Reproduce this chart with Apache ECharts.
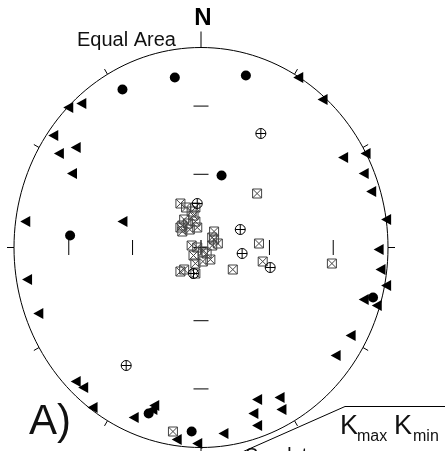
<!DOCTYPE html>
<html>
<head>
<meta charset="utf-8">
<script src="https://cdn.jsdelivr.net/npm/echarts@6/dist/echarts.min.js"></script>
<style>
html,body{margin:0;padding:0;background:#fff;}
#chart{width:445px;height:451px;}
</style>
</head>
<body>
<div id="chart"></div>
<script>
// Projected (equal-area) positions on the unit net: [east, north]
const circlePoles = [[-0.42,0.79],[-0.14,0.85],[0.24,0.86],[0.11,0.36],[-0.70,0.06],[0.92,-0.25],[-0.28,-0.83],[-0.05,-0.92]];
const trianglePoles = [[-0.71,0.70],[-0.64,0.72],[0.52,0.85],[0.65,0.74],[-0.79,0.56],[-0.67,0.50],[-0.76,0.47],[-0.69,0.37],
  [-0.94,0.13],[-0.42,0.13],[-0.93,-0.16],[0.76,0.45],[0.88,0.47],[0.87,0.37],[0.91,0.28],[0.99,0.14],[0.95,-0.01],
  [0.96,-0.11],[0.99,-0.19],[0.87,-0.26],[0.94,-0.29],[-0.87,-0.33],[0.80,-0.44],[0.72,-0.54],[-0.67,-0.67],[-0.63,-0.70],
  [-0.58,-0.80],[-0.36,-0.85],[-0.25,-0.79],[-0.26,-0.81],[-0.13,-0.96],[-0.02,-0.98],[0.12,-0.93],[0.30,-0.76],
  [0.42,-0.75],[0.28,-0.83],[0.43,-0.81],[0.30,-0.89]];
const kmaxAxes = [[0.30,0.27],[0.31,0.02],[0.33,-0.07],[0.17,-0.11],[0.70,-0.08],[-0.15,-0.92],
  [-0.11,0.22],[-0.08,0.20],[-0.05,0.18],[-0.03,0.20],[-0.04,0.16],[-0.09,0.14],[-0.07,0.12],[-0.03,0.13],
  [-0.11,0.10],[-0.10,0.08],[-0.10,0.11],[-0.06,0.09],[-0.02,0.10],[0.07,0.08],[0.06,0.05],[0.07,0.04],
  [0.06,0.01],[0.09,0.02],[-0.05,0.01],[-0.02,0.00],[-0.04,-0.04],[0.01,-0.02],[0.03,-0.03],[0.05,-0.06],
  [0.01,-0.07],[-0.03,-0.08],[-0.03,-0.13],[-0.11,-0.12],[-0.09,-0.11]];
const kminAxes = [[0.32,0.57],[-0.02,0.22],[0.21,0.09],[0.22,-0.03],[0.37,-0.10],[-0.04,-0.13],[-0.40,-0.59]];
// Net definition
const tickAzimuths = [0,30,60,90,120,150,180,210,240,270,300,330];
const netPlunges = [30,60];

const FONT = '"Liberation Sans", Arial, sans-serif';
const chart = echarts.init(document.getElementById('chart'));

function eqArea(p){ return Math.SQRT2*Math.sin((90-p)/2*Math.PI/180); }

function renderNet(params, api){
  const c = api.coord([0,0]);
  const ex = api.coord([1,0]);
  const ny = api.coord([0,1]);
  const rx = ex[0]-c[0], ry = c[1]-ny[1];
  const children = [];
  const pts = [];
  for (let a=0;a<=360;a+=2){
    const t=a*Math.PI/180;
    pts.push([c[0]+rx*Math.sin(t), c[1]-ry*Math.cos(t)]);
  }
  children.push({type:'polyline', shape:{points:pts}, style:{stroke:'#000', lineWidth:1, fill:null}});
  tickAzimuths.forEach(az=>{
    const t=az*Math.PI/180, s=Math.sin(t), co=Math.cos(t);
    const len = az===0?16:(az%90===0?7:6);
    const x0=c[0]+rx*s, y0=c[1]-ry*co;
    children.push({type:'line', shape:{x1:x0,y1:y0,x2:x0+len*s,y2:y0-len*co}, style:{stroke:'#000',lineWidth:1}});
  });
  const half=7.5;
  netPlunges.forEach(p=>{
    const r=eqArea(p);
    [-1,1].forEach(sg=>{
      const yy=c[1]-sg*r*ry;
      children.push({type:'line', shape:{x1:c[0]-half,y1:yy,x2:c[0]+half,y2:yy}, style:{stroke:'#000',lineWidth:1}});
      const xx=c[0]+sg*r*rx;
      children.push({type:'line', shape:{x1:xx,y1:c[1]-half,x2:xx,y2:c[1]+half}, style:{stroke:'#000',lineWidth:1}});
    });
  });
  children.push({type:'line', shape:{x1:c[0]-half,y1:c[1],x2:c[0]+half,y2:c[1]}, style:{stroke:'#000',lineWidth:1.2}});
  children.push({type:'line', shape:{x1:c[0],y1:c[1]-half,x2:c[0],y2:c[1]+half}, style:{stroke:'#000',lineWidth:1.2}});
  return {type:'group', children};
}

const option = {
  backgroundColor:'#fff',
  animation:false,
  grid:{left:14, top:47.5, width:374, height:400},
  xAxis:{type:'value', min:-1, max:1, show:false},
  yAxis:{type:'value', min:-1, max:1, show:false},
  series:[
    {type:'custom', coordinateSystem:'cartesian2d', data:[[0,0]], renderItem:renderNet, silent:true, z:1},
    {type:'scatter', data:trianglePoles, clip:false, symbol:'triangle', symbolSize:[11,10], symbolRotate:90,
      itemStyle:{color:'#000', opacity:1}, z:3},
    {type:'scatter', data:circlePoles, clip:false, symbol:'circle', symbolSize:10,
      itemStyle:{color:'#000', opacity:1}, z:3},
    {type:'scatter', data:kmaxAxes, clip:false, symbol:'path://M0,0L10,0L10,10L0,10ZM0,0L10,10M10,0L0,10', symbolSize:9,
      itemStyle:{color:'rgba(0,0,0,0)', borderColor:'#444', borderWidth:1, opacity:1}, z:4},
    {type:'scatter', data:kminAxes, clip:false, symbol:'path://M10,5A5,5 0 1 1 0,5A5,5 0 1 1 10,5ZM5,0L5,10M0,5L10,5', symbolSize:10,
      itemStyle:{color:'rgba(255,255,255,0)', borderColor:'#000', borderWidth:1, opacity:1}, z:5}
  ],
  graphic:[
    {type:'text', style:{text:'N', x:203, y:18, font:'bold 24px '+FONT, textAlign:'center', textVerticalAlign:'middle', fill:'#000'}},
    {type:'text', style:{text:'Equal Area', x:77, y:40, font:'20px '+FONT, textAlign:'left', textVerticalAlign:'middle', fill:'#111'}},
    {type:'text', style:{text:'A)', x:29, y:422, font:'42px '+FONT, textAlign:'left', textVerticalAlign:'middle', fill:'#111'}},
    {type:'text', style:{text:'K', x:340, y:426.5, font:'27px '+FONT, textAlign:'left', textVerticalAlign:'middle', fill:'#111'}},
    {type:'text', style:{text:'max', x:357, y:437, font:'16px '+FONT, textAlign:'left', textVerticalAlign:'middle', fill:'#111'}},
    {type:'text', style:{text:'K', x:394, y:426.5, font:'27px '+FONT, textAlign:'left', textVerticalAlign:'middle', fill:'#111'}},
    {type:'text', style:{text:'min', x:413, y:437, font:'16px '+FONT, textAlign:'left', textVerticalAlign:'middle', fill:'#111'}},
    {type:'text', style:{text:'Sandstone', x:245, y:456, font:'20px '+FONT, textAlign:'left', textVerticalAlign:'middle', fill:'#111'}},
    {type:'polyline', shape:{points:[[240,453],[345,406.5],[445,406.5]]}, style:{stroke:'#000', lineWidth:1, fill:null}}
  ]
};
chart.setOption(option);
</script>
</body>
</html>
